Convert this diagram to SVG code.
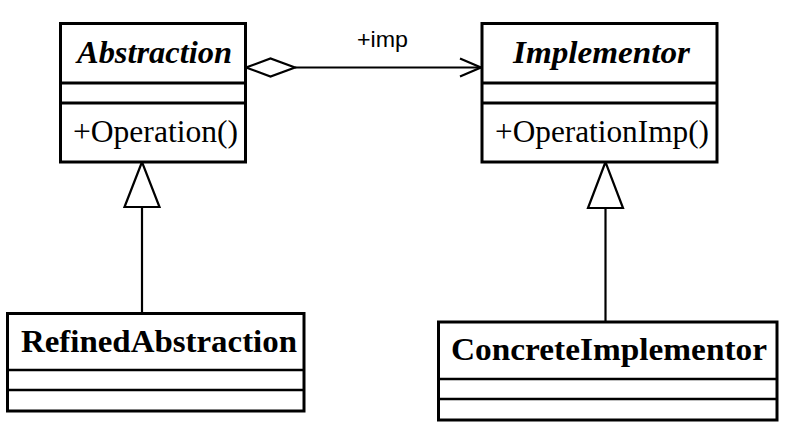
<svg xmlns="http://www.w3.org/2000/svg" width="789" height="427" viewBox="0 0 789 427">
<style>
.box{fill:#fff;stroke:#000;stroke-width:3}
.div{stroke:#000;stroke-width:3}
.div2{stroke:#000;stroke-width:2.5}
.title{font-family:"Liberation Serif","Times New Roman",serif;font-weight:bold;font-size:32px;fill:#000}
.it{font-style:italic}
.op{font-family:"Liberation Serif","Times New Roman",serif;font-size:32px;fill:#000}
.lbl{font-family:"Liberation Sans",Arial,sans-serif;font-size:22px;fill:#000}
.conn{fill:none;stroke:#000;stroke-width:2.2}
.tri{fill:#fff;stroke:#000;stroke-width:2.2}
</style>
<rect width="789" height="427" fill="#fff"/>
<g id="connectors">
  <line class="conn" x1="295" y1="67.5" x2="481" y2="67.5"/>
  <polygon class="tri" points="246,67.5 270.5,58.5 295,67.5 270.5,76.5"/>
  <polyline class="conn" points="460,58.5 481,67.5 460,76.5"/>
  <line class="conn" x1="142" y1="207" x2="142" y2="313"/>
  <polygon class="tri" points="142,162 124.5,207 159.5,207"/>
  <line class="conn" x1="605.5" y1="208" x2="605.5" y2="322"/>
  <polygon class="tri" points="605.5,162 588,208 623,208"/>
  <text class="lbl" x="357" y="47" textLength="51" lengthAdjust="spacingAndGlyphs">+imp</text>
</g>
<g id="abstraction">
  <rect class="box" x="60.5" y="23.5" width="185" height="138.5"/>
  <line class="div" x1="60.5" y1="83" x2="245.5" y2="83"/>
  <line class="div" x1="60.5" y1="103" x2="245.5" y2="103"/>
  <text class="title it" x="77" y="63" textLength="155" lengthAdjust="spacingAndGlyphs">Abstraction</text>
  <text class="op" x="73" y="142" textLength="165" lengthAdjust="spacingAndGlyphs">+Operation()</text>
</g>
<g id="implementor">
  <rect class="box" x="482" y="23.5" width="235" height="138.5"/>
  <line class="div" x1="482" y1="83" x2="717" y2="83"/>
  <line class="div" x1="482" y1="103" x2="717" y2="103"/>
  <text class="title it" x="513" y="63" textLength="177" lengthAdjust="spacingAndGlyphs">Implementor</text>
  <text class="op" x="495" y="142" textLength="214" lengthAdjust="spacingAndGlyphs">+OperationImp()</text>
</g>
<g id="refinedabstraction">
  <rect class="box" x="7.5" y="313.5" width="296.5" height="97.5"/>
  <line class="div2" x1="7.5" y1="370" x2="304" y2="370"/>
  <line class="div2" x1="7.5" y1="390" x2="304" y2="390"/>
  <text class="title" x="21" y="352" textLength="276" lengthAdjust="spacingAndGlyphs">RefinedAbstraction</text>
</g>
<g id="concreteimplementor">
  <rect class="box" x="438.5" y="322" width="338.5" height="98"/>
  <line class="div2" x1="438.5" y1="379" x2="777" y2="379"/>
  <line class="div2" x1="438.5" y1="399" x2="777" y2="399"/>
  <text class="title" x="451" y="360" textLength="316" lengthAdjust="spacingAndGlyphs">ConcreteImplementor</text>
</g>
</svg>
